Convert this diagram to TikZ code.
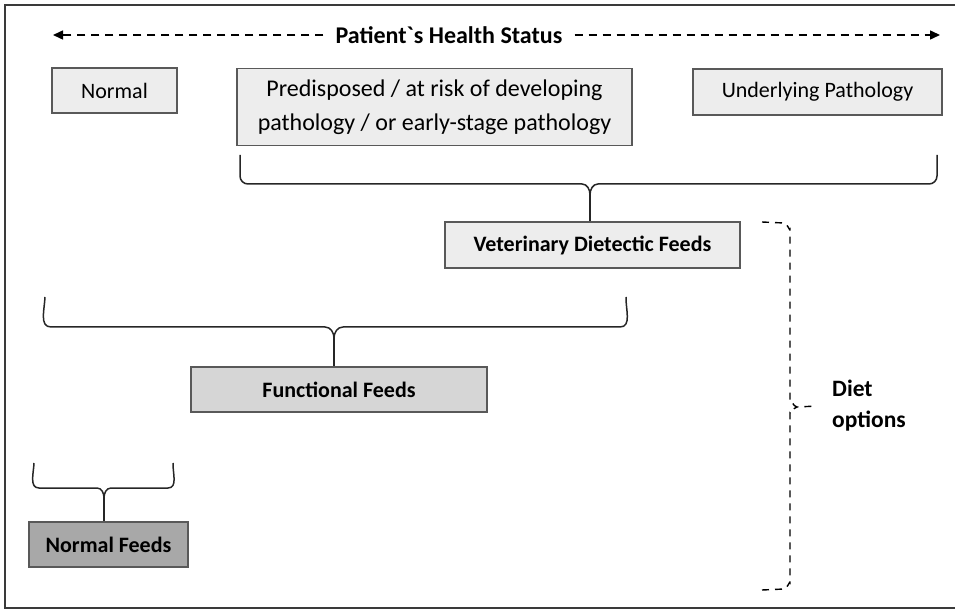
\documentclass[tikz,border=0pt]{standalone}
\usepackage{fontspec}
\setmainfont{Carlito}
\newfontfamily\rawfont{Carlito}
\usetikzlibrary{arrows.meta}
\definecolor{boxline}{HTML}{595959}
\definecolor{lightfill}{HTML}{EDEDED}
\definecolor{midfill}{HTML}{D6D6D6}
\definecolor{darkfill}{HTML}{A8A8A8}
\definecolor{frameline}{HTML}{3A3A3A}
\tikzset{
  statebox/.style={draw=boxline, line width=1.2pt, fill=lightfill, inner sep=0pt, align=center, font=\fontsize{22}{34}\selectfont},
  feedbox/.style={draw=boxline, line width=1.2pt, inner sep=0pt, font=\fontsize{22}{26}\selectfont\bfseries},
  bracket/.style={line width=1.5pt, black!85, line join=round},
  dashbracket/.style={line width=1.4pt, black, dash pattern=on 7pt off 6pt},
  healtharrow/.style={line width=1.5pt, dash pattern=on 8pt off 6pt, -{Triangle[width=9pt,length=10pt]}},
}
\begin{document}
\begin{tikzpicture}[x=1pt,y=-1pt]
\useasboundingbox (0,0) rectangle (955,609);
% frame (right edge lies outside the picture)
\draw[frameline, line width=2pt] (960,5) -- (4.5,5) -- (4.5,607.5) -- (960,607.5);

% health status arrow
\node[font=\fontsize{24}{26}\selectfont\bfseries, inner xsep=12pt, inner ysep=4pt] (hs) at (449,35) {Patient{\rawfont`}s Health Status};
\coordinate (hl) at (53,35);
\coordinate (hr) at (940,35);
\draw[healtharrow] (hs.west) -- (hl);
\draw[healtharrow] (hs.east) -- (hr);

% state boxes
\node[statebox, minimum width=125pt, minimum height=45pt] (normal) at (114.5,90.5) {Normal};
\node[statebox, minimum width=395pt, minimum height=77pt, font=\fontsize{24}{34}\selectfont] (pre) at (434.5,107) {Predisposed / at risk of developing\\pathology / or early-stage pathology};
\node[statebox, minimum width=249pt, minimum height=46pt] (under) at (817.5,92) {Underlying Pathology};

% feed boxes
\node[feedbox, fill=lightfill, minimum width=295pt, minimum height=46pt] (vdf) at (592.5,245) {Veterinary Dietectic Feeds};
\node[feedbox, fill=midfill, minimum width=296pt, minimum height=45pt] (ff) at (339,389.5) {Functional Feeds};
\node[feedbox, fill=darkfill, minimum width=159pt, minimum height=45pt] (nf) at (108.5,544.5) {Normal Feeds};

% brace 1 (over predisposed + underlying)
\coordinate (b1l) at (240,155);
\coordinate (b1r) at (937,155);
\coordinate (t1) at (590,194);
\draw[bracket] (b1l) -- (240,176) to[out=-90,in=180] (248,184) -- (582,184) to[out=0,in=90] (590,195)
  to[out=90,in=180] (598,184) -- (929,184) to[out=0,in=-90] (937,176) -- (b1r);
\draw[bracket] (t1) -- (t1 |- vdf.north);

% brace 2 (over normal + predisposed)
\coordinate (b2l) at (45,297);
\coordinate (b2r) at (626,297);
\coordinate (t2) at (334,337);
\draw[bracket] (b2l) to[out=-92,in=180] (51,327) -- (325,327) to[out=0,in=90] (334,338)
  to[out=90,in=180] (343,327) -- (620,327) to[out=0,in=-92] (b2r);
\draw[bracket] (t2) -- (t2 |- ff.north);

% brace 3 (over normal)
\coordinate (b3l) at (34,463);
\coordinate (b3r) at (173,463);
\coordinate (t3) at (104,497);
\draw[bracket] (b3l) to[out=-92,in=180] (39,488) -- (97,488) to[out=0,in=90] (104,498)
  to[out=90,in=180] (111,488) -- (168,488) to[out=0,in=-92] (b3r);
\draw[bracket] (t3) -- (t3 |- nf.north);

% diet options dashed brace
\node[font=\fontsize{23.5}{31}\selectfont\bfseries, align=left, anchor=west, inner sep=0pt] (diet) at (832,406) {Diet\\options};
\coordinate (dt) at (762,222);
\coordinate (db) at (762,590);
\coordinate (dm) at ([xshift=-15pt]diet.west);
\draw[dashbracket] (dt) -- (784,223) to[out=0,in=-90] (790,229) -- (790,401) to[out=90,in=180] (797,407) -- (dm);
\draw[dashbracket] (db) -- (784,589) to[out=0,in=90] (790,583) -- (790,413) to[out=-90,in=180] (797,407);
\end{tikzpicture}
\end{document}
